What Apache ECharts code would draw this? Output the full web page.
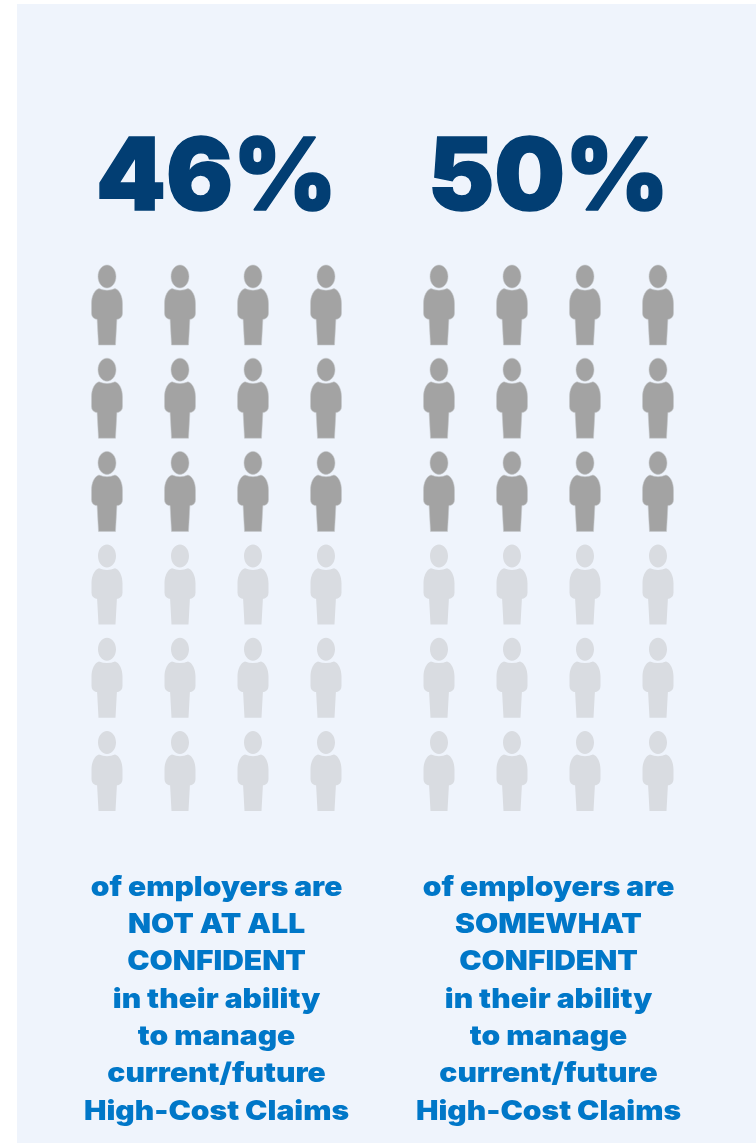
<!DOCTYPE html>
<html>
<head>
<meta charset="utf-8">
<style>html,body{margin:0;padding:0;background:#fff}#chart{width:756px;height:1143px}</style>
<script src="https://cdn.jsdelivr.net/npm/echarts@6/dist/echarts.min.js"></script>
</head>
<body>
<div id="chart"></div>
<script>
// Survey results
const percentLabels = ['46%', '50%'];
const filledIcons = [12, 12];
const iconColumns = [0, 1, 2, 3];
const iconRows = [0, 1, 2, 3, 4, 5];
const captionLeft = ['of employers are', 'NOT AT ALL', 'CONFIDENT', 'in their ability', 'to manage', 'current/future', 'High-Cost Claims'];
const captionRight = ['of employers are', 'SOMEWHAT', 'CONFIDENT', 'in their ability', 'to manage', 'current/future', 'High-Cost Claims'];

const PERSON = 'path://M15.5 0C20.5 0 24.5 5.2 24.5 11.5C24.5 17.8 20.5 23 15.5 23C10.5 23 6.5 17.8 6.5 11.5C6.5 5.2 10.5 0 15.5 0Z' +
  'M7.5 23.6Q15.5 27 23.5 23.6C28 25 31 31 31 39L31 48Q31 53 26.5 54.2L25.4 54.2L24 80L7 80L5.6 54.2L4.5 54.2Q0 53 0 48L0 39C0 31 3 25 7.5 23.6Z';

const DARK = '#a3a3a3', LIGHT = '#d9dce1', PANEL = '#eff4fc';
const NAVY = '#023e73', BLUE = '#0077c8';
const FONT = 'Inter, "Open Sans", sans-serif';

// Two icon blocks, each its own grid with hidden axes
const blockLeft = [107, 439];
const cells = iconRows.flatMap(r => iconColumns.map(c => [c, r]));

const grids = [], xAxes = [], yAxes = [], series = [];
blockLeft.forEach((left, i) => {
  grids.push({ left: left, top: 305, width: 219, height: 466 });
  xAxes.push({ type: 'value', gridIndex: i, min: 0, max: 3, show: false });
  yAxes.push({ type: 'value', gridIndex: i, min: 0, max: 5, inverse: true, show: false });
  [[cells.slice(0, filledIcons[i]), DARK], [cells.slice(filledIcons[i]), LIGHT]].forEach(([pts, color]) => {
    series.push({
      type: 'scatter', xAxisIndex: i, yAxisIndex: i, data: pts,
      symbol: PERSON, symbolSize: [31, 80], silent: true,
      itemStyle: { color: color, opacity: 1, borderColor: '#c6c8cc', borderWidth: color === DARK ? 0.5 : 0 }
    });
  });
});

const graphics = [{ type: 'rect', z: -10, shape: { x: 17, y: 4, width: 739, height: 1139 }, style: { fill: PANEL } }];
const centers = [216.5, 548.5];
percentLabels.forEach((t, i) => {
  graphics.push({ type: 'text', x: centers[i], y: 129.5, scaleX: 0.995, style: {
    text: t, fill: NAVY, stroke: NAVY, lineWidth: 1.5, font: '900 100px ' + FONT, align: 'center', verticalAlign: 'alphabetic' } });
});
[captionLeft, captionRight].forEach((lines, i) => {
  lines.forEach((t, k) => {
    graphics.push({ type: 'text', x: centers[i], y: 874 + k * 37.33, scaleX: 1.11, style: {
      text: t, fill: BLUE, font: '900 27px ' + FONT, align: 'center', verticalAlign: 'alphabetic' } });
  });
});

const chart = echarts.init(document.getElementById('chart'), null, { renderer: 'canvas' });
chart.setOption({
  animation: false,
  backgroundColor: '#fff',
  grid: grids, xAxis: xAxes, yAxis: yAxes, series: series, graphic: graphics
});
</script>
</body>
</html>
